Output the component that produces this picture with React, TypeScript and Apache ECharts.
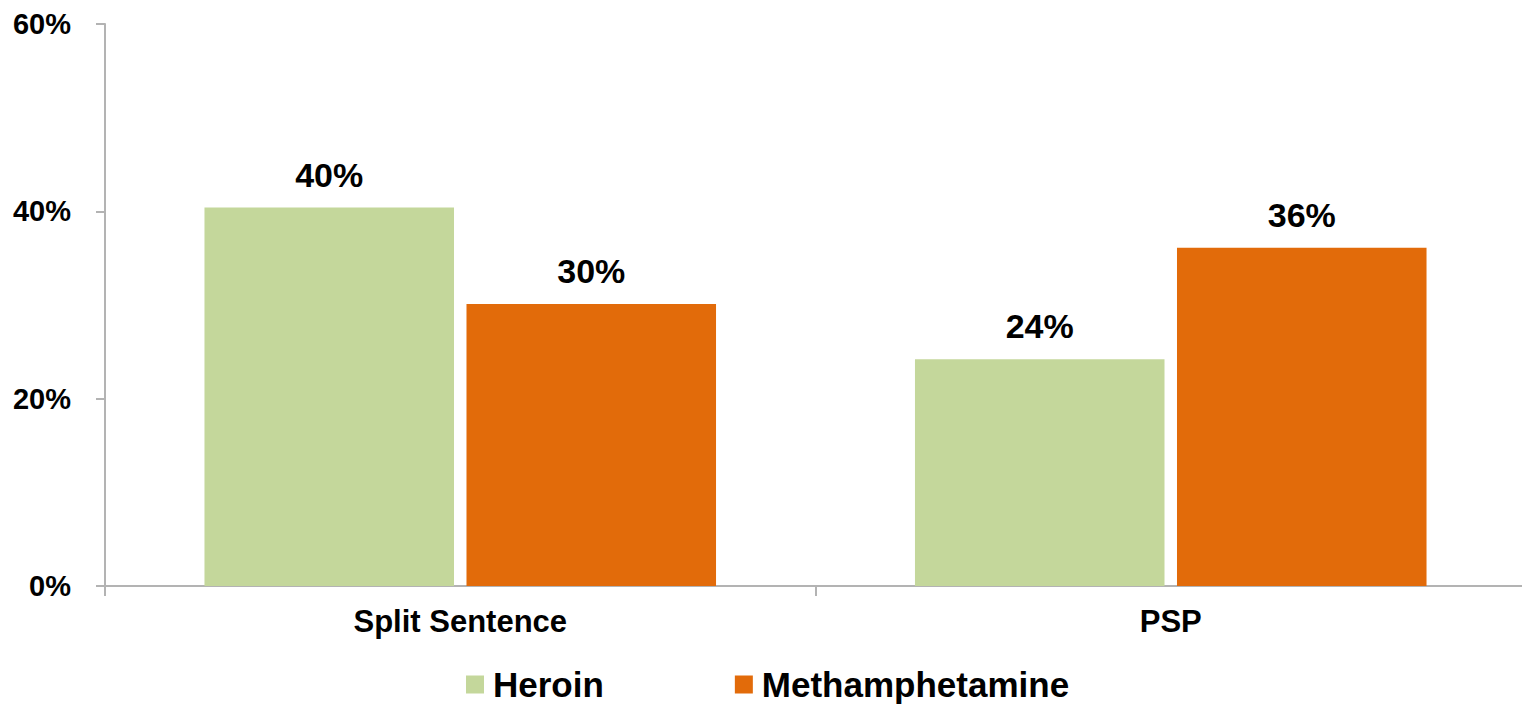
import React, { useEffect, useRef } from "react";
import * as echarts from "echarts";

const categories = ["Split Sentence", "PSP"];
const heroin = [40.4, 24.2];
const methamphetamine = [30.1, 36.1];
const yTicks = { min: 0, max: 60, interval: 20 };

const FONT = '"Liberation Sans", Arial, sans-serif';
const AXIS_COLOR = "#b3b3b3";

export default function App() {
  const ref = useRef<HTMLDivElement>(null);
  useEffect(() => {
    if (!ref.current) return;
    const chart = echarts.init(ref.current, null, { renderer: "svg" });
    const label = {
      show: true,
      position: "top",
      distance: 16,
      fontFamily: FONT,
      fontWeight: "bold",
      fontSize: 34,
      color: "#000",
      formatter: (p: any) => Math.round(p.value) + "%",
    };
    chart.setOption({
      animation: false,
      textStyle: { fontFamily: FONT },
      grid: { left: 105, right: 0, top: 24, bottom: 118, containLabel: false },
      legend: {
        left: 461,
        top: 662,
        itemWidth: 18,
        itemHeight: 18,
        itemGap: 131,
        icon: "rect",
        textStyle: {
          fontFamily: FONT,
          fontWeight: "bold",
          fontSize: 35,
          color: "#000",
          padding: [0, 0, 0, 4],
        },
        data: ["Heroin", "Methamphetamine"],
      },
      xAxis: {
        type: "category",
        data: categories,
        axisLine: { lineStyle: { color: AXIS_COLOR, width: 2 } },
        axisTick: { show: true, length: 10, lineStyle: { color: AXIS_COLOR, width: 2 } },
        axisLabel: {
          margin: 20,
          fontFamily: FONT,
          fontWeight: "bold",
          fontSize: 31,
          color: "#000",
        },
      },
      yAxis: {
        type: "value",
        min: yTicks.min,
        max: yTicks.max,
        interval: yTicks.interval,
        splitLine: { show: false },
        axisLine: { show: true, lineStyle: { color: AXIS_COLOR, width: 2 } },
        axisTick: { show: true, length: 9, lineStyle: { color: AXIS_COLOR, width: 2 } },
        axisLabel: {
          margin: 34,
          fontFamily: FONT,
          fontWeight: "bold",
          fontSize: 29,
          color: "#000",
          formatter: "{value}%",
        },
      },
      series: [
        {
          name: "Heroin",
          type: "bar",
          data: heroin,
          itemStyle: { color: "#c4d79b" },
          barGap: "5%",
          barCategoryGap: "28%",
          label,
        },
        {
          name: "Methamphetamine",
          type: "bar",
          data: methamphetamine,
          itemStyle: { color: "#e26b0a" },
          barGap: "5%",
          barCategoryGap: "28%",
          label,
        },
      ],
    });
    return () => chart.dispose();
  }, []);
  return (
    <div
      style={{
        position: "absolute",
        left: 0,
        top: 0,
        width: 1522,
        height: 704,
        overflow: "hidden",
      }}
    >
      <div ref={ref} style={{ width: 1526, height: 704 }} />
    </div>
  );
}
